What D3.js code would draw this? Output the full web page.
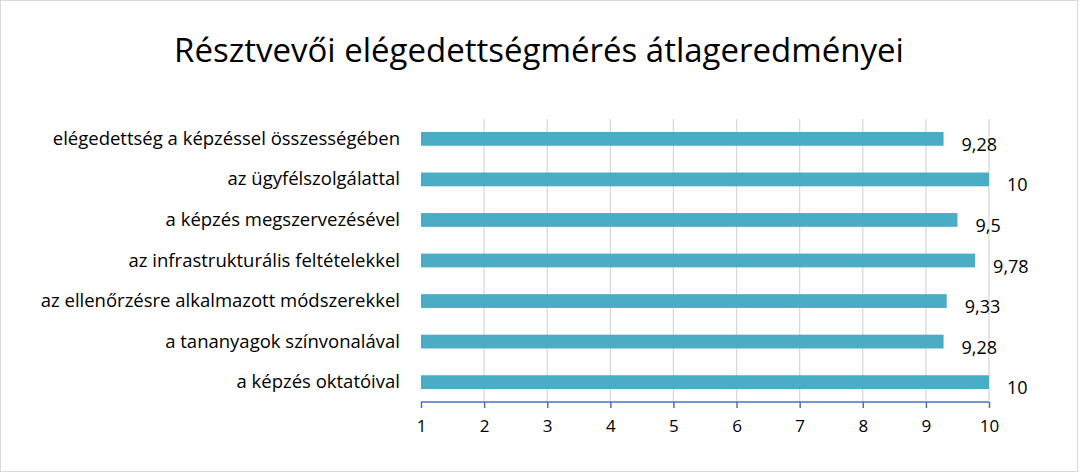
<!DOCTYPE html><html><head><meta charset="utf-8">
<script src="https://cdn.jsdelivr.net/npm/d3@7"></script>
<style>body{margin:0;background:#fff}svg{font-family:"Open Sans","Noto Sans",sans-serif}</style></head><body>
<svg id="c" width="1082" height="476"></svg>
<script>
const categories=["elégedettség a képzéssel összességében","az ügyfélszolgálattal","a képzés megszervezésével","az infrastrukturális feltételekkel","az ellenőrzésre alkalmazott módszerekkel","a tananyagok színvonalával","a képzés oktatóival"];
const values=[9.28,10,9.5,9.78,9.33,9.28,10];
const valueLabels=["9,28","10","9,5","9,78","9,33","9,28","10"];
const ticks=[1,2,3,4,5,6,7,8,9,10];
const svg=d3.select("#c");
svg.append("rect").attr("x",0.5).attr("y",0.5).attr("width",1077).attr("height",471).attr("fill","#fff").attr("stroke","#d9d9d9");
svg.append("text").attr("x",539).attr("y",62).attr("text-anchor","middle").attr("font-size",33).attr("fill","#000").text("Résztvevői elégedettségmérés átlageredményei");
const x=d3.scaleLinear().domain([1,10]).range([421,989]);
const y=d3.scaleBand().domain(categories).range([119,402]).paddingInner(0.66).paddingOuter(0.32);
const g=svg.append("g");
g.selectAll("line.grid").data(ticks.slice(1)).join("line").attr("x1",d=>x(d)).attr("x2",d=>x(d)).attr("y1",119).attr("y2",402).attr("stroke","#d9d9d9").attr("stroke-width",1.3);
g.selectAll("rect.bar").data(values).join("rect").attr("x",x(1)).attr("y",(d,i)=>y(categories[i])).attr("width",d=>x(d)-x(1)).attr("height",y.bandwidth()).attr("fill","#4bacc6");
const ax=svg.append("g").attr("transform","translate(0,402)").call(d3.axisBottom(x).tickValues(ticks).tickSize(6).tickPadding(12).tickFormat(d3.format("d")));
ax.selectAll("line,path").attr("stroke","#4472c4").attr("stroke-width",1.5);
ax.select("path").attr("d","M"+x(1)+",0H"+x(10));
ax.selectAll("text").attr("font-size",17).attr("fill","#000").attr("font-family","'Open Sans',sans-serif");
g.selectAll("text.cat").data(categories).join("text").attr("x",400).attr("y",d=>y(d)+y.bandwidth()/2+6).attr("text-anchor","end").attr("font-size",18.5).attr("fill","#000").text(d=>d);
g.selectAll("text.val").data(values).join("text").attr("x",d=>x(d)+18).attr("y",(d,i)=>y(categories[i])+y.bandwidth()/2+12).attr("font-size",18).attr("fill","#000").text((d,i)=>valueLabels[i]);
</script></body></html>
